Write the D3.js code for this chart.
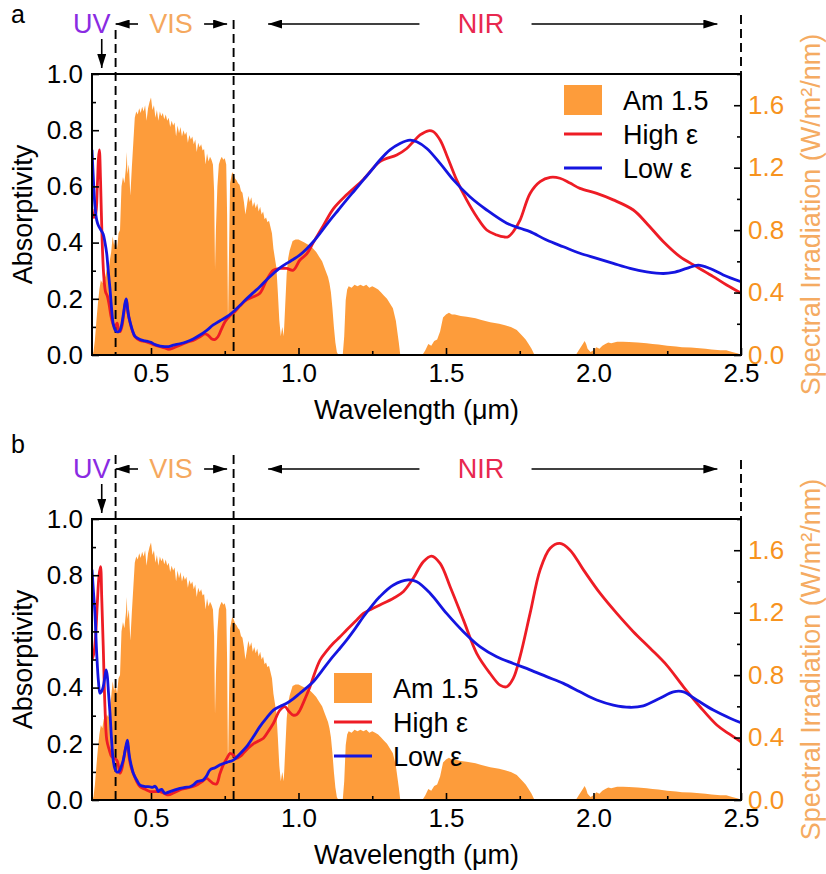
<!DOCTYPE html>
<html><head><meta charset="utf-8">
<script src="https://cdn.jsdelivr.net/npm/d3@7"></script>
<style>
body{margin:0;background:#fff}
svg{display:block}
text{font-family:"Liberation Sans",Arial,Helvetica,sans-serif}
</style>
</head><body>
<svg id="chart" width="826" height="874"></svg>
<script>
// ---------- data ----------
const xTicks = [0.5, 1.0, 1.5, 2.0, 2.5];
const xMinorTicks = [0.75, 1.25, 1.75, 2.25];
const yTicks = [0, 0.2, 0.4, 0.6, 0.8, 1.0];
const yMinorTicks = [0.1, 0.3, 0.5, 0.7, 0.9];
const rTicks = [0, 0.4, 0.8, 1.2, 1.6];
const rMinorTicks = [0.2, 0.6, 1.0, 1.4, 1.8];
const regionBounds = [0.38, 0.78, 2.5];
const legendLabels = ["Am 1.5", "High ε", "Low ε"];

// AM 1.5 solar spectral irradiance (W/m2/nm) vs wavelength (µm)
const am15 = [
[0.300,0.00],[0.305,0.02],[0.310,0.10],[0.315,0.22],[0.320,0.33],[0.325,0.42],[0.330,0.48],[0.335,0.46],
[0.340,0.52],[0.345,0.50],[0.350,0.55],[0.355,0.53],[0.360,0.60],[0.365,0.66],[0.370,0.76],[0.375,0.70],
[0.380,0.74],[0.385,0.68],[0.390,0.78],[0.395,0.80],[0.400,1.08],[0.405,1.14],[0.410,1.10],[0.415,1.20],
[0.418,1.30],[0.420,1.16],[0.425,1.22],[0.430,1.02],[0.435,1.20],[0.440,1.36],[0.445,1.52],[0.450,1.56],
[0.455,1.54],[0.460,1.58],[0.465,1.55],[0.470,1.59],[0.475,1.56],[0.480,1.60],[0.485,1.50],[0.490,1.58],
[0.495,1.62],[0.500,1.65],[0.505,1.57],[0.510,1.60],[0.515,1.52],[0.520,1.57],[0.525,1.50],[0.530,1.56],
[0.535,1.53],[0.540,1.55],[0.545,1.51],[0.550,1.54],[0.555,1.50],[0.560,1.52],[0.565,1.46],[0.570,1.50],
[0.575,1.47],[0.580,1.49],[0.585,1.40],[0.590,1.47],[0.595,1.42],[0.600,1.46],[0.605,1.40],[0.610,1.44],
[0.615,1.41],[0.620,1.43],[0.625,1.36],[0.630,1.41],[0.635,1.38],[0.640,1.40],[0.645,1.35],[0.650,1.38],
[0.655,1.30],[0.660,1.36],[0.665,1.33],[0.670,1.35],[0.675,1.31],[0.680,1.32],[0.685,1.22],[0.690,1.29],
[0.695,1.24],[0.700,1.27],[0.705,1.25],[0.710,1.22],[0.714,1.05],[0.717,0.55],[0.720,0.80],[0.725,1.08],
[0.730,1.22],[0.735,1.25],[0.740,1.27],[0.745,1.25],[0.750,1.26],[0.755,1.22],[0.758,0.90],[0.761,0.20],
[0.764,0.60],[0.768,1.10],[0.775,1.17],[0.780,1.16],[0.785,1.13],[0.790,1.12],[0.795,1.10],[0.800,1.09],
[0.805,1.05],[0.810,1.04],[0.815,0.98],[0.820,0.90],[0.825,0.96],[0.830,1.02],[0.835,0.98],[0.840,1.01],
[0.845,0.95],[0.850,0.98],[0.855,0.94],[0.860,0.97],[0.865,0.92],[0.870,0.95],[0.875,0.90],[0.880,0.92],
[0.885,0.87],[0.890,0.88],[0.895,0.85],[0.900,0.86],[0.905,0.82],[0.910,0.78],[0.915,0.68],[0.920,0.62],
[0.925,0.56],[0.930,0.40],[0.935,0.22],[0.940,0.12],[0.945,0.18],[0.950,0.12],[0.955,0.32],[0.960,0.52],
[0.965,0.62],[0.970,0.67],[0.975,0.70],[0.980,0.73],[0.990,0.74],[1.000,0.74],[1.010,0.73],[1.020,0.72],
[1.030,0.71],[1.040,0.70],[1.050,0.68],[1.060,0.66],[1.070,0.63],[1.080,0.60],[1.090,0.55],[1.100,0.50],
[1.105,0.46],[1.110,0.40],[1.115,0.30],[1.120,0.18],[1.125,0.08],[1.130,0.02],[1.135,0.00],[1.150,0.00],
[1.155,0.12],[1.160,0.35],[1.165,0.42],[1.170,0.44],[1.180,0.43],[1.190,0.45],[1.200,0.44],[1.210,0.45],
[1.220,0.44],[1.230,0.45],[1.240,0.43],[1.250,0.44],[1.260,0.43],[1.270,0.42],[1.280,0.40],[1.290,0.38],
[1.300,0.36],[1.310,0.33],[1.320,0.30],[1.330,0.22],[1.340,0.08],[1.345,0.00],[1.420,0.00],[1.430,0.03],
[1.440,0.07],[1.450,0.06],[1.460,0.09],[1.470,0.10],[1.480,0.15],[1.490,0.24],[1.500,0.26],[1.510,0.27],
[1.520,0.26],[1.530,0.26],[1.550,0.25],[1.570,0.245],[1.600,0.235],[1.620,0.225],[1.650,0.21],[1.680,0.20],
[1.700,0.19],[1.720,0.18],[1.740,0.16],[1.760,0.12],[1.770,0.10],[1.780,0.07],[1.790,0.04],[1.800,0.00],
[1.940,0.00],[1.950,0.03],[1.960,0.06],[1.970,0.09],[1.975,0.07],[1.980,0.04],[1.990,0.02],[2.000,0.03],
[2.010,0.05],[2.020,0.04],[2.030,0.06],[2.040,0.07],[2.050,0.08],[2.060,0.075],[2.080,0.085],[2.100,0.085],
[2.120,0.083],[2.150,0.08],[2.180,0.075],[2.200,0.07],[2.220,0.068],[2.250,0.06],[2.280,0.055],[2.300,0.05],
[2.330,0.048],[2.350,0.045],[2.380,0.04],[2.400,0.035],[2.430,0.03],[2.450,0.03],[2.470,0.02],[2.490,0.01],
[2.500,0.00]
];

// panel a: absorptivity
const highEpsA = [
[0.300,0.52],[0.306,0.49],[0.312,0.50],[0.318,0.60],[0.322,0.70],[0.325,0.73],[0.329,0.62],[0.334,0.42],
[0.340,0.28],[0.346,0.225],[0.352,0.21],[0.358,0.18],[0.364,0.14],[0.370,0.115],[0.376,0.10],[0.381,0.105],
[0.385,0.113],[0.390,0.09],[0.395,0.083],[0.401,0.10],[0.407,0.14],[0.412,0.18],[0.417,0.195],[0.422,0.15],
[0.429,0.115],[0.437,0.085],[0.446,0.065],[0.463,0.052],[0.480,0.048],[0.497,0.042],[0.514,0.035],[0.531,0.03],
[0.547,0.025],[0.560,0.02],[0.576,0.025],[0.598,0.035],[0.621,0.045],[0.643,0.052],[0.666,0.065],[0.683,0.075],
[0.694,0.07],[0.705,0.058],[0.716,0.055],[0.727,0.065],[0.740,0.095],[0.752,0.12],[0.768,0.14],[0.785,0.155],
[0.802,0.175],[0.824,0.196],[0.847,0.207],[0.869,0.22],[0.892,0.267],[0.915,0.302],[0.937,0.308],[0.960,0.308],
[0.982,0.302],[1.005,0.338],[1.028,0.36],[1.050,0.40],[1.084,0.46],[1.118,0.52],[1.163,0.57],[1.220,0.625],
[1.276,0.688],[1.333,0.712],[1.367,0.735],[1.389,0.759],[1.412,0.783],[1.440,0.798],[1.457,0.795],[1.480,0.765],
[1.502,0.712],[1.536,0.623],[1.570,0.552],[1.604,0.492],[1.638,0.445],[1.672,0.427],[1.697,0.42],[1.711,0.421],
[1.728,0.439],[1.751,0.48],[1.785,0.575],[1.819,0.617],[1.853,0.632],[1.886,0.629],[1.920,0.612],[1.954,0.593],
[2.011,0.575],[2.067,0.552],[2.135,0.516],[2.180,0.469],[2.237,0.403],[2.293,0.35],[2.350,0.314],[2.406,0.279],
[2.450,0.25],[2.500,0.22]
];
const lowEpsA = [
[0.300,0.73],[0.305,0.62],[0.310,0.53],[0.316,0.48],[0.322,0.46],[0.330,0.445],[0.338,0.43],[0.344,0.40],
[0.350,0.36],[0.355,0.30],[0.361,0.235],[0.366,0.17],[0.372,0.11],[0.378,0.09],[0.384,0.083],[0.390,0.083],
[0.395,0.088],[0.401,0.11],[0.407,0.15],[0.412,0.185],[0.416,0.20],[0.420,0.17],[0.425,0.135],[0.431,0.11],
[0.438,0.085],[0.446,0.066],[0.463,0.055],[0.480,0.05],[0.491,0.048],[0.500,0.045],[0.514,0.037],[0.531,0.032],
[0.547,0.03],[0.560,0.03],[0.576,0.035],[0.598,0.04],[0.621,0.047],[0.643,0.057],[0.666,0.071],[0.689,0.088],
[0.711,0.107],[0.734,0.122],[0.757,0.136],[0.779,0.154],[0.802,0.177],[0.824,0.20],[0.847,0.222],[0.869,0.243],
[0.892,0.268],[0.915,0.29],[0.937,0.31],[0.960,0.326],[0.982,0.34],[1.005,0.356],[1.028,0.378],[1.050,0.403],
[1.078,0.44],[1.107,0.48],[1.135,0.516],[1.163,0.552],[1.192,0.588],[1.220,0.623],[1.248,0.658],[1.276,0.694],
[1.310,0.73],[1.344,0.753],[1.378,0.765],[1.401,0.759],[1.435,0.735],[1.480,0.682],[1.525,0.623],[1.581,0.563],
[1.638,0.516],[1.706,0.469],[1.751,0.451],[1.785,0.439],[1.841,0.409],[1.898,0.385],[1.954,0.362],[2.011,0.344],
[2.067,0.326],[2.124,0.308],[2.180,0.296],[2.237,0.29],[2.271,0.294],[2.316,0.308],[2.355,0.32],[2.395,0.308],
[2.440,0.285],[2.500,0.261]
];

// panel b: absorptivity
const highEpsB = [
[0.300,0.50],[0.306,0.52],[0.312,0.58],[0.318,0.70],[0.324,0.80],[0.329,0.83],[0.333,0.72],[0.338,0.55],
[0.344,0.33],[0.350,0.214],[0.358,0.18],[0.367,0.154],[0.376,0.148],[0.384,0.142],[0.390,0.12],[0.395,0.095],
[0.401,0.11],[0.408,0.15],[0.414,0.185],[0.420,0.20],[0.426,0.15],[0.433,0.115],[0.440,0.095],[0.452,0.065],
[0.463,0.047],[0.480,0.038],[0.497,0.03],[0.514,0.03],[0.531,0.03],[0.547,0.022],[0.559,0.018],[0.576,0.025],
[0.598,0.036],[0.621,0.042],[0.643,0.048],[0.655,0.053],[0.672,0.065],[0.689,0.077],[0.700,0.068],[0.711,0.059],
[0.722,0.057],[0.734,0.095],[0.745,0.125],[0.757,0.148],[0.768,0.166],[0.779,0.16],[0.790,0.148],[0.802,0.155],
[0.813,0.166],[0.830,0.185],[0.847,0.20],[0.864,0.21],[0.881,0.22],[0.898,0.245],[0.915,0.273],[0.937,0.32],
[0.954,0.332],[0.968,0.315],[0.982,0.302],[0.995,0.305],[1.005,0.32],[1.022,0.36],[1.039,0.403],[1.056,0.455],
[1.073,0.498],[1.095,0.53],[1.118,0.558],[1.140,0.58],[1.163,0.605],[1.192,0.635],[1.220,0.664],[1.248,0.68],
[1.276,0.694],[1.322,0.718],[1.355,0.741],[1.389,0.789],[1.423,0.848],[1.451,0.868],[1.480,0.842],[1.514,0.759],
[1.559,0.641],[1.604,0.522],[1.649,0.451],[1.683,0.409],[1.706,0.403],[1.728,0.433],[1.751,0.51],[1.785,0.664],
[1.819,0.819],[1.853,0.896],[1.886,0.913],[1.920,0.89],[1.966,0.819],[2.022,0.736],[2.079,0.664],[2.135,0.599],
[2.192,0.54],[2.248,0.48],[2.305,0.403],[2.361,0.332],[2.418,0.267],[2.460,0.235],[2.500,0.207]
];
const lowEpsB = [
[0.300,0.82],[0.305,0.74],[0.310,0.664],[0.316,0.52],[0.322,0.42],[0.327,0.38],[0.332,0.385],[0.338,0.403],
[0.344,0.44],[0.348,0.463],[0.352,0.44],[0.356,0.38],[0.361,0.309],[0.366,0.22],[0.372,0.142],[0.378,0.11],
[0.384,0.10],[0.390,0.10],[0.395,0.107],[0.401,0.125],[0.406,0.142],[0.413,0.18],[0.420,0.213],[0.425,0.17],
[0.429,0.142],[0.435,0.115],[0.440,0.095],[0.452,0.07],[0.463,0.053],[0.480,0.048],[0.497,0.047],[0.505,0.045],
[0.514,0.049],[0.520,0.04],[0.525,0.03],[0.531,0.036],[0.536,0.038],[0.542,0.03],[0.547,0.024],[0.555,0.026],
[0.564,0.03],[0.581,0.036],[0.598,0.041],[0.615,0.045],[0.632,0.047],[0.645,0.055],[0.655,0.065],[0.666,0.068],
[0.677,0.071],[0.688,0.085],[0.700,0.107],[0.717,0.115],[0.734,0.125],[0.757,0.134],[0.779,0.142],[0.802,0.165],
[0.824,0.19],[0.847,0.225],[0.869,0.261],[0.892,0.292],[0.915,0.32],[0.937,0.333],[0.960,0.344],[0.982,0.36],
[1.005,0.38],[1.028,0.40],[1.050,0.421],[1.078,0.458],[1.107,0.498],[1.135,0.533],[1.163,0.569],[1.192,0.61],
[1.220,0.652],[1.248,0.69],[1.276,0.724],[1.322,0.765],[1.372,0.783],[1.401,0.777],[1.446,0.736],[1.502,0.664],
[1.559,0.599],[1.615,0.546],[1.672,0.51],[1.728,0.486],[1.785,0.463],[1.841,0.439],[1.898,0.415],[1.954,0.385],
[2.011,0.356],[2.067,0.338],[2.124,0.33],[2.169,0.335],[2.225,0.362],[2.271,0.385],[2.305,0.385],[2.350,0.356],
[2.406,0.32],[2.463,0.291],[2.500,0.275]
];

// ---------- layout / style ----------
const C = {
  fill: "#FD9C3B", red: "#EE1C25", blue: "#1515E0",
  rTick: "#F7931E", rTitle: "#F5AB62", uv: "#8A2BE2", vis: "#F5A85E", nir: "#E8284F"
};
const X0 = 92, X1 = 741;
const panels = [
  {name:"a", top:74, bottom:355, high:highEpsA, low:lowEpsA, legX:564, legY:100,
   letterY:23, dashTop:[-44,-54,-59]},
  {name:"b", top:519, bottom:800, high:highEpsB, low:lowEpsB, legX:334, legY:688,
   letterY:453, dashTop:[-64,-64,-59]}
];

const svg = d3.select("#chart");
const defs = svg.append("defs");
defs.append("marker").attr("id","ah").attr("viewBox","0 0 14 9")
  .attr("refX",14).attr("refY",4.5).attr("markerWidth",14).attr("markerHeight",9)
  .attr("markerUnits","userSpaceOnUse").attr("orient","auto")
  .append("path").attr("d","M0,0L14,4.5L0,9Z").attr("fill","#000");

const x = d3.scaleLinear().domain([0.3, 2.5]).range([X0, X1]);

panels.forEach((p, pi) => {
  const yL = d3.scaleLinear().domain([0, 1]).range([p.bottom, p.top]);
  const yR = d3.scaleLinear().domain([0, 1.8]).range([p.bottom, p.top]);
  const g = svg.append("g");

  const clipId = "clip" + pi;
  defs.append("clipPath").attr("id", clipId).append("rect")
    .attr("x", X0).attr("y", p.top).attr("width", X1 - X0).attr("height", p.bottom - p.top);

  // spectrum area
  g.append("path").datum(am15)
    .attr("clip-path", `url(#${clipId})`)
    .attr("fill", C.fill)
    .attr("d", d3.area().x(d => x(d[0])).y0(yR(0)).y1(d => yR(d[1])));

  // region dashed lines
  regionBounds.forEach((b, i) => {
    g.append("line").attr("x1", x(b)).attr("x2", x(b))
      .attr("y1", p.top + p.dashTop[i]).attr("y2", i === 2 ? p.top : p.bottom)
      .attr("stroke", "#000").attr("stroke-width", 1.9).attr("stroke-dasharray", "9,5");
  });

  // absorptivity lines
  const line = d3.line().x(d => x(d[0])).y(d => yL(d[1])).curve(d3.curveCatmullRom.alpha(0.5));
  g.append("path").datum(p.high).attr("clip-path", `url(#${clipId})`)
    .attr("fill", "none").attr("stroke", C.red).attr("stroke-width", 2.8).attr("d", line);
  g.append("path").datum(p.low).attr("clip-path", `url(#${clipId})`)
    .attr("fill", "none").attr("stroke", C.blue).attr("stroke-width", 2.8).attr("d", line);

  // frame
  g.append("rect").attr("x", X0).attr("y", p.top).attr("width", X1 - X0).attr("height", p.bottom - p.top)
    .attr("fill", "none").attr("stroke", "#000").attr("stroke-width", 2);

  // axes
  const fmt = d3.format(".1f");
  g.append("g").attr("transform", `translate(${X0},0)`)
    .call(d3.axisLeft(yL).tickValues(yTicks).tickFormat(fmt).tickSizeInner(-7).tickSizeOuter(0).tickPadding(9));
  g.append("g").attr("transform", `translate(${X0},0)`)
    .call(d3.axisLeft(yL).tickValues(yMinorTicks).tickFormat("").tickSizeInner(-4).tickSizeOuter(0));
  g.append("g").attr("transform", `translate(0,${p.bottom})`)
    .call(d3.axisBottom(x).tickValues(xTicks).tickFormat(fmt).tickSizeInner(-7).tickSizeOuter(0).tickPadding(9));
  g.append("g").attr("transform", `translate(0,${p.bottom})`)
    .call(d3.axisBottom(x).tickValues(xMinorTicks).tickFormat("").tickSizeInner(-4).tickSizeOuter(0));
  const right = g.append("g").attr("transform", `translate(${X1},0)`)
    .call(d3.axisRight(yR).tickValues(rTicks).tickFormat(fmt).tickSizeInner(-7).tickSizeOuter(0).tickPadding(7));
  g.append("g").attr("transform", `translate(${X1},0)`)
    .call(d3.axisRight(yR).tickValues(rMinorTicks).tickFormat("").tickSizeInner(-4).tickSizeOuter(0));

  g.selectAll(".domain").remove();
  g.selectAll(".tick line").attr("stroke", "#000").attr("stroke-width", 1.6);
  g.selectAll(".tick text").attr("font-size", 26).attr("font-family", '"Liberation Sans",Arial,sans-serif').attr("fill", "#000");
  right.selectAll(".tick text").attr("fill", C.rTick);

  // axis titles
  g.append("text").attr("transform", `translate(32,${(p.top + p.bottom) / 2}) rotate(-90)`)
    .attr("text-anchor", "middle").attr("font-size", 27).text("Absorptivity");
  g.append("text").attr("x", (X0 + X1) / 2).attr("y", p.bottom + 64)
    .attr("text-anchor", "middle").attr("font-size", 27).text("Wavelength (μm)");
  g.append("text").attr("transform", `translate(820,${(p.top + p.bottom) / 2}) rotate(-90)`)
    .attr("text-anchor", "middle").attr("font-size", 27).attr("fill", C.rTitle)
    .text("Spectral Irradiation (W/m²/nm)");

  // panel letter
  g.append("text").attr("x", 11).attr("y", p.letterY).attr("font-size", 25).text(p.name);

  // region annotations
  const ay = p.top - 50, ty = p.top - 41;
  g.append("text").attr("x", x(0.38) - 5).attr("y", ty).attr("text-anchor", "end")
    .attr("font-size", 27).attr("fill", C.uv).text("UV");
  g.append("text").attr("x", x(0.568)).attr("y", ty).attr("text-anchor", "middle")
    .attr("font-size", 27).attr("fill", C.vis).text("VIS");
  g.append("text").attr("x", x(1.619)).attr("y", ty).attr("text-anchor", "middle")
    .attr("font-size", 27).attr("fill", C.nir).text("NIR");
  const arrows = [[0.456, 0.38], [0.68, 0.758], [1.41, 0.897], [1.79, 2.42]];
  arrows.forEach(a => {
    g.append("line").attr("x1", x(a[0])).attr("x2", x(a[1])).attr("y1", ay).attr("y2", ay)
      .attr("stroke", "#000").attr("stroke-width", 1.6).attr("marker-end", "url(#ah)");
  });
  g.append("line").attr("x1", x(0.333)).attr("x2", x(0.333)).attr("y1", p.top - 35).attr("y2", p.top - 6)
    .attr("stroke", "#000").attr("stroke-width", 1.6).attr("marker-end", "url(#ah)");

  // legend
  const lg = g.append("g");
  const rowH = 34;
  lg.append("rect").attr("x", p.legX).attr("y", p.legY - 15).attr("width", 38).attr("height", 30).attr("fill", C.fill);
  lg.append("line").attr("x1", p.legX).attr("x2", p.legX + 38).attr("y1", p.legY + rowH).attr("y2", p.legY + rowH)
    .attr("stroke", C.red).attr("stroke-width", 2.8);
  lg.append("line").attr("x1", p.legX).attr("x2", p.legX + 38).attr("y1", p.legY + 2 * rowH).attr("y2", p.legY + 2 * rowH)
    .attr("stroke", C.blue).attr("stroke-width", 2.8);
  legendLabels.forEach((t, i) => {
    lg.append("text").attr("x", p.legX + 59).attr("y", p.legY + i * rowH + 10)
      .attr("font-size", 27).text(t);
  });
});
</script>
</body></html>
